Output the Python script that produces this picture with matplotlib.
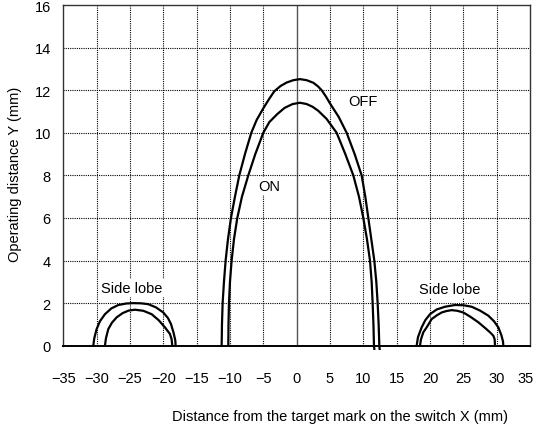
import matplotlib
matplotlib.use("Agg")
import matplotlib.pyplot as plt
from matplotlib.transforms import ScaledTranslation

plt.rcParams["font.family"] = ["Liberation Sans", "DejaVu Sans"]

# main lobe, OFF (outer) boundary
off_x = [-11.25, -11.22, -11.2, -11.1, -10.9, -10.65, -10.3, -9.85, -9.25, -8.6,
         -7.75, -6.8, -6.0, -5.0, -4.1, -3.35, -2.4, -1.5, -0.5, 0.5,
         1.5, 2.5, 3.2, 3.75, 4.4, 5.0, 6.3, 7.5, 8.7, 9.75,
         10.3, 10.75, 11.2, 11.65, 11.95, 12.15, 12.3, 12.4, 12.45]
off_y = [0, 0.5, 1, 2, 3, 4, 5, 6, 7, 8,
         9, 10, 10.6, 11.15, 11.6, 11.95, 12.2, 12.36, 12.47, 12.52,
         12.47, 12.35, 12.18, 12, 11.7, 11.38, 10.75, 10, 9, 8,
         7, 6, 5, 4, 3, 2, 1, 0, -0.15]

# main lobe, ON (inner) boundary
on_x = [-10.25, -10.22, -10.15, -10.0, -9.75, -9.4, -8.9, -8.2, -7.25, -6.2,
        -5.0, -4.1, -2.9, -1.8, -0.6, 0.5, 1.5, 2.4, 3.25, 4.5,
        6.0, 7.3, 8.5, 9.35, 10.0, 10.55, 11.0, 11.25, 11.4, 11.52,
        11.6, 11.65]
on_y = [0, 1, 2, 3, 4, 5, 6, 7, 8, 9,
        10, 10.5, 10.88, 11.17, 11.35, 11.41, 11.35, 11.22, 11.03, 10.65,
        10, 9, 8, 7, 6, 5, 4, 3, 2, 1,
        0, -0.15]

# left side lobe
lo_out_x = [-30.5, -30.35, -30.0, -29.5, -28.75, -27.8, -26.75, -25.6, -24.5,
            -23.3, -22.25, -21.1, -20.0, -19.3, -18.85, -18.45, -18.2, -18.15]
lo_out_y = [0, 0.35, 0.78, 1.15, 1.48, 1.75, 1.91, 1.98, 2.0,
            1.99, 1.95, 1.8, 1.56, 1.3, 1.02, 0.6, 0.25, 0]
lo_in_x = [-28.75, -28.6, -28.25, -27.7, -27.0, -26.1, -25.2, -24.25,
           -23.0, -21.75, -20.7, -19.75, -19.0, -18.75, -18.65]
lo_in_y = [0, 0.35, 0.78, 1.08, 1.33, 1.53, 1.65, 1.69,
           1.64, 1.48, 1.2, 0.86, 0.55, 0.3, 0]

# right side lobe
ro_out_x = [18.0, 18.2, 18.75, 19.3, 20.0, 21.0, 22.25, 23.75, 25.0,
            26.25, 27.5, 28.75, 29.6, 30.25, 30.7, 30.95, 31.0]
ro_out_y = [0, 0.4, 0.86, 1.2, 1.48, 1.7, 1.83, 1.91, 1.9,
            1.83, 1.65, 1.41, 1.15, 0.86, 0.5, 0.2, 0]
ro_in_x = [18.5, 18.65, 19.0, 19.5, 20.25, 21.0, 21.75, 22.5, 23.25,
           24.1, 25.0, 26.1, 27.25, 28.2, 29.0, 29.5, 29.7, 29.75]
ro_in_y = [0, 0.3, 0.63, 0.86, 1.25, 1.42, 1.56, 1.63, 1.67,
           1.64, 1.56, 1.35, 1.1, 0.85, 0.63, 0.47, 0.3, 0]

x_ticks = list(range(-35, 36, 5))
y_ticks = list(range(0, 17, 2))

fig = plt.figure(figsize=(5.34, 4.31), dpi=100)
ax = fig.add_axes([0.1185, 0.1956, 0.874, 0.7904])

ax.set_xlim(-35, 35)
ax.set_ylim(0, 16)

# dotted grid, the x=0 line is solid
for gx in x_ticks[1:-1]:
    if gx == 0:
        ax.axvline(0, color="#555555", lw=1.0, zorder=1)
    else:
        ax.axvline(gx, color="black", lw=0.8, ls=(0, (1, 1)), zorder=1)
for gy in y_ticks[1:-1]:
    ax.axhline(gy, color="black", lw=0.8, ls=(0, (1, 1)), zorder=1)

curves = [(off_x, off_y), (on_x, on_y), (lo_out_x, lo_out_y), (lo_in_x, lo_in_y),
          (ro_out_x, ro_out_y), (ro_in_x, ro_in_y)]
for cx, cy in curves:
    ax.plot(cx, cy, color="black", lw=1.6, clip_on=False, zorder=3,
            solid_joinstyle="round")

box = dict(facecolor="white", edgecolor="none", pad=1.5)
ax.text(-4.15, 7.5, "ON", ha="center", va="center", fontsize=10.5, bbox=box, zorder=2)
ax.text(10.0, 11.5, "OFF", ha="center", va="center", fontsize=10.5, bbox=box, zorder=2)
ax.text(-24.7, 2.7, "Side lobe", ha="center", va="center", fontsize=10.5, bbox=box, zorder=2)
ax.text(23.0, 2.65, "Side lobe", ha="center", va="center", fontsize=10.5, bbox=box, zorder=2)

ax.set_xticks(x_ticks)
ax.set_yticks(y_ticks)
ax.tick_params(axis="x", length=0, pad=18, labelsize=10.5)
ax.tick_params(axis="y", length=0, pad=9, labelsize=10.5)

# last x label sits flush with the right edge
last = ax.get_xticklabels()[-1]
last.set_horizontalalignment("right")
last.set_transform(last.get_transform() + ScaledTranslation(4 / 100, 0, fig.dpi_scale_trans))

for side in ["left", "right", "top"]:
    ax.spines[side].set_color("#333333")
    ax.spines[side].set_linewidth(1.0)
ax.spines["bottom"].set_color("black")
ax.spines["bottom"].set_linewidth(1.4)

fig.text(0.637, 0.033, "Distance from the target mark on the switch X (mm)",
         ha="center", va="center", fontsize=10.5)
fig.text(0.028, 0.596, "Operating distance Y (mm)", ha="center", va="center",
         rotation=90, fontsize=10.5)

fig.savefig("out.png", dpi=100)
